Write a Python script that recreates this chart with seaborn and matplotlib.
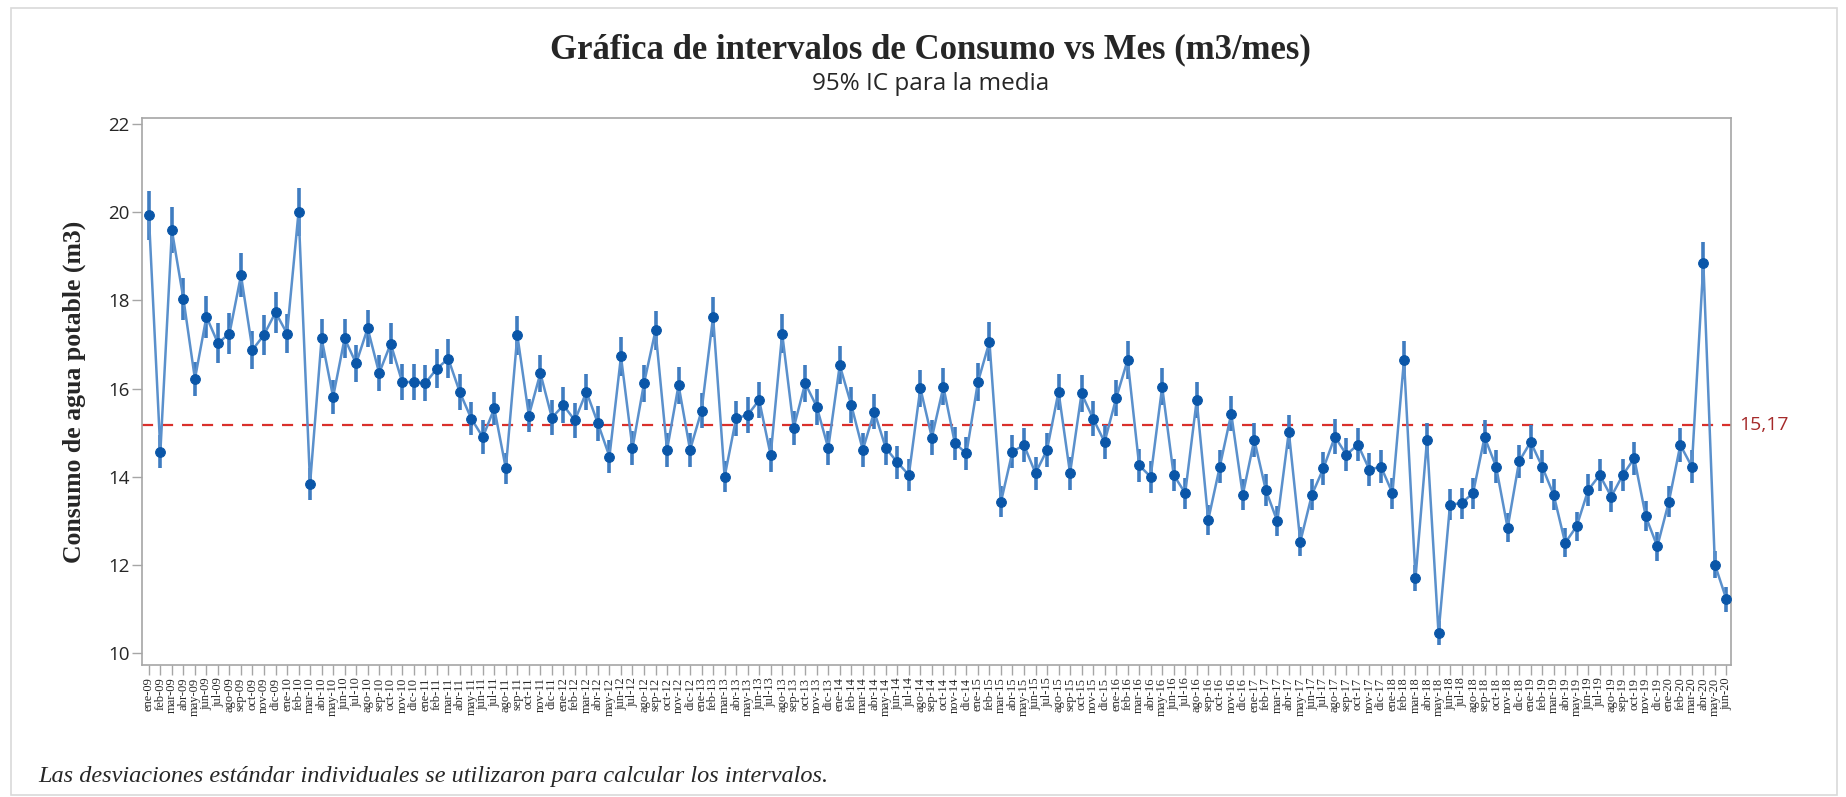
import numpy as np
import pandas as pd
import matplotlib
matplotlib.use("Agg")
import matplotlib.pyplot as plt
import seaborn as sns
from matplotlib.patches import Rectangle

# meses y años (ene-09 ... jun-20)
meses = ["ene", "feb", "mar", "abr", "may", "jun", "jul", "ago", "sep", "oct", "nov", "dic"]
anios = ["09", "10", "11", "12", "13", "14", "15", "16", "17", "18", "19", "20"]
etiquetas = [f"{m}-{a}" for a in anios for m in meses][:138]

# medias mensuales (m3)
consumo = [
    19.93, 14.57, 19.59, 18.04, 16.22, 17.63, 17.03, 17.25, 18.57, 16.88, 17.22, 17.73,
    17.25, 20.01, 13.84, 17.14, 15.81, 17.14, 16.57, 17.37, 16.35, 17.02, 16.15, 16.15,
    16.12, 16.45, 16.68, 15.92, 15.32, 14.90, 15.55, 14.19, 17.21, 15.39, 16.35, 15.34,
    15.62, 15.28, 15.93, 15.21, 14.46, 16.73, 14.65, 16.12, 17.32, 14.61, 16.08, 14.61,
    15.50, 17.63, 14.00, 15.33, 15.40, 15.74, 14.49, 17.25, 15.11, 16.12, 15.59, 14.65,
    16.53, 15.63, 14.61, 15.48, 14.65, 14.33, 14.04, 16.01, 14.89, 16.04, 14.76, 14.53,
    16.15, 17.06, 13.43, 14.57, 14.72, 14.08, 14.61, 15.93, 14.08, 15.89, 15.32, 14.79,
    15.78, 16.65, 14.26, 14.00, 16.04, 14.04, 13.63, 15.74, 13.02, 14.23, 15.43, 13.59,
    14.84, 13.70, 12.99, 15.02, 12.53, 13.59, 14.19, 14.91, 14.50, 14.73, 14.16, 14.23,
    13.63, 16.65, 11.70, 14.84, 10.45, 13.37, 13.40, 13.63, 14.90, 14.23, 12.84, 14.35,
    14.79, 14.23, 13.59, 12.50, 12.88, 13.70, 14.04, 13.55, 14.04, 14.42, 13.10, 12.42,
    13.43, 14.72, 14.23, 18.84, 12.01, 11.22,
]

# semiamplitud del IC 95%
semi_ic = [
    0.55, 0.38, 0.52, 0.48, 0.39, 0.48, 0.45, 0.46, 0.50, 0.43, 0.45, 0.47,
    0.44, 0.54, 0.37, 0.44, 0.39, 0.44, 0.42, 0.42, 0.41, 0.46, 0.40, 0.40,
    0.41, 0.44, 0.45, 0.41, 0.38, 0.38, 0.38, 0.35, 0.44, 0.38, 0.42, 0.40,
    0.41, 0.40, 0.41, 0.40, 0.38, 0.45, 0.38, 0.42, 0.45, 0.38, 0.42, 0.38,
    0.40, 0.45, 0.35, 0.40, 0.40, 0.41, 0.38, 0.45, 0.39, 0.42, 0.41, 0.38,
    0.43, 0.41, 0.38, 0.40, 0.38, 0.37, 0.37, 0.42, 0.39, 0.42, 0.38, 0.38,
    0.42, 0.44, 0.35, 0.38, 0.38, 0.37, 0.38, 0.41, 0.37, 0.41, 0.40, 0.38,
    0.41, 0.43, 0.37, 0.36, 0.42, 0.36, 0.35, 0.41, 0.34, 0.37, 0.40, 0.35,
    0.39, 0.36, 0.34, 0.39, 0.33, 0.35, 0.37, 0.39, 0.38, 0.38, 0.37, 0.37,
    0.35, 0.43, 0.30, 0.39, 0.27, 0.35, 0.35, 0.35, 0.39, 0.37, 0.33, 0.37,
    0.38, 0.37, 0.35, 0.33, 0.33, 0.36, 0.36, 0.35, 0.36, 0.37, 0.34, 0.32,
    0.35, 0.38, 0.37, 0.49, 0.31, 0.29,
]

media_global = 15.17

df = pd.DataFrame({"pos": np.arange(len(consumo)), "mes": etiquetas,
                   "consumo": consumo, "ic": semi_ic})

sns.set_theme(style="white")
serif = ["Liberation Serif", "DejaVu Serif"]
sans = ["Open Sans", "DejaVu Sans"]

fig = plt.figure(figsize=(18.46, 7.97), dpi=100)
fig.patches.append(Rectangle((0.006, 0.003), 0.989, 0.987, transform=fig.transFigure,
                             fill=False, edgecolor="#d9d9d9", linewidth=1.2))
ax = fig.add_axes([0.0769, 0.1656, 0.8608, 0.6864])

azul = "#0a56a8"
ax.errorbar(df["pos"], df["consumo"], yerr=df["ic"], fmt="none",
            ecolor="#3f7cc0", elinewidth=2.6, capsize=0, zorder=2)
sns.lineplot(data=df, x="pos", y="consumo", ax=ax, color="#5a90cc", linewidth=1.8,
             marker="o", markersize=7, markerfacecolor=azul, markeredgecolor=azul,
             zorder=3)

ax.axhline(media_global, color="#d9302c", linestyle=(0, (5, 4)), linewidth=1.6, zorder=1)
ax.text(1.005, media_global, "15,17", transform=ax.get_yaxis_transform(),
        color="#a52a2a", fontsize=14, va="center", ha="left", family=sans)

ax.set_xlim(-0.6, 137.4)
ax.set_ylim(9.73, 22.14)
ax.set_yticks([10, 12, 14, 16, 18, 20, 22])
ax.set_yticklabels(["10", "12", "14", "16", "18", "20", "22"], family=sans, fontsize=13.5)
ax.set_xticks(df["pos"])
ax.set_xticklabels(df["mes"], rotation=90, family=serif, fontsize=9)
ax.tick_params(axis="both", which="major", length=7, width=1, color="#a6a6a6",
               direction="out", bottom=True, left=True, pad=2)
for s in ax.spines.values():
    s.set_color("#a6a6a6")
    s.set_linewidth(1.2)

ax.set_xlabel("")
ax.set_ylabel("Consumo de agua potable (m3)", family=serif, fontsize=18.5,
              fontweight="bold", labelpad=16)

fig.text(0.504, 0.938, "Gráfica de intervalos de Consumo vs Mes (m3/mes)",
         ha="center", va="center", family=serif, fontweight="bold", fontsize=25)
fig.text(0.504, 0.895, "95% IC para la media", ha="center", va="center",
         family=sans, fontsize=17.5)
fig.text(0.021, 0.012, "Las desviaciones estándar individuales se utilizaron para calcular los intervalos.",
         ha="left", va="bottom", family=serif, style="italic", fontsize=17.5)

fig.savefig("out.png", dpi=100)
